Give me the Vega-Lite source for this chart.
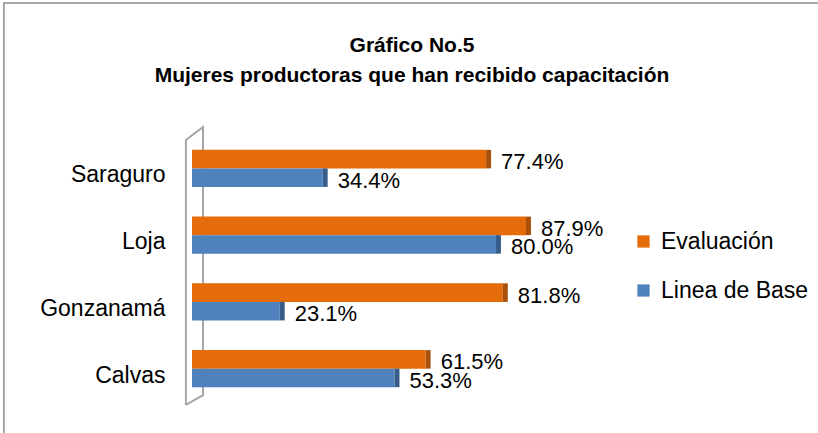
{
  "$schema": "https://vega.github.io/schema/vega-lite/v6.json",
  "width": 380,
  "height": 267,
  "autosize": {"type": "none"},
  "padding": {"left": 192, "top": 135, "right": 246, "bottom": 31},
  "background": "white",
  "config": {
    "view": {"stroke": null},
    "font": "Liberation Sans"
  },
  "title": {
    "text": ["Gráfico No.5", "Mujeres productoras que han recibido capacitación"],
    "fontSize": 21,
    "fontWeight": "bold",
    "font": "Liberation Sans",
    "color": "#000000",
    "anchor": "middle",
    "frame": "group",
    "dx": 30,
    "lineHeight": 30,
    "offset": -84
  },
  "datasets": {
    "bars": [
      {"region": "Saraguro", "series": "Evaluación", "value": 0.774},
      {"region": "Saraguro", "series": "Linea de Base", "value": 0.344},
      {"region": "Loja", "series": "Evaluación", "value": 0.879},
      {"region": "Loja", "series": "Linea de Base", "value": 0.800},
      {"region": "Gonzanamá", "series": "Evaluación", "value": 0.818},
      {"region": "Gonzanamá", "series": "Linea de Base", "value": 0.231},
      {"region": "Calvas", "series": "Evaluación", "value": 0.615},
      {"region": "Calvas", "series": "Linea de Base", "value": 0.533}
    ],
    "wall": [
      {"wx": -0.016, "wy": -0.011, "o": 0},
      {"wx": -0.016, "wy": 0.981, "o": 1},
      {"wx": 0.029, "wy": 1.03, "o": 2},
      {"wx": 0.029, "wy": 0.026, "o": 3},
      {"wx": -0.016, "wy": -0.011, "o": 4}
    ],
    "frame": [
      {"fx": -0.495, "fx2": 2.0, "fy": 1.494, "fy2": -0.5}
    ]
  },
  "resolve": {"scale": {"y": "independent"}, "axis": {"y": "independent"}},
  "layer": [
    {
      "layer": [
        {
          "data": {"name": "frame"},
          "mark": {"type": "rect", "fill": null, "stroke": "#8C8C8C", "strokeWidth": 1.5, "clip": false},
          "encoding": {
            "x": {"field": "fx", "type": "quantitative", "scale": {"domain": [0, 1], "nice": false, "zero": false}, "axis": null},
            "x2": {"field": "fx2"},
            "y": {"field": "fy", "type": "quantitative", "scale": {"domain": [0, 1], "nice": false, "zero": false}, "axis": null},
            "y2": {"field": "fy2"}
          }
        },
        {
          "data": {"name": "wall"},
          "mark": {"type": "line", "color": "#A6A6A6", "strokeWidth": 2, "clip": false},
          "encoding": {
            "x": {"field": "wx", "type": "quantitative", "axis": null},
            "y": {"field": "wy", "type": "quantitative", "axis": null},
            "order": {"field": "o", "type": "quantitative"}
          }
        }
      ]
    },
    {
      "data": {"name": "bars"},
      "encoding": {
        "y": {
          "field": "region",
          "type": "nominal",
          "sort": ["Saraguro", "Loja", "Gonzanamá", "Calvas"],
          "scale": {"paddingInner": 0.445, "paddingOuter": 0.2225},
          "axis": {
            "title": null,
            "domain": false,
            "ticks": false,
            "labelFontSize": 23,
            "labelColor": "#000000",
            "labelFont": "Liberation Sans",
            "labelPadding": 27,
            "labelBaseline": "middle",
            "labelOffset": 7
          }
        },
        "yOffset": {
          "field": "series",
          "type": "nominal",
          "sort": ["Evaluación", "Linea de Base"],
          "scale": {"paddingInner": 0, "paddingOuter": 0}
        }
      },
      "layer": [
        {
          "mark": {"type": "bar"},
          "encoding": {
            "x": {"field": "value", "type": "quantitative", "axis": null},
            "color": {
              "field": "series",
              "type": "nominal",
              "scale": {"domain": ["Evaluación", "Linea de Base"], "range": ["#E46C0A", "#4F81BD"]},
              "legend": {
                "title": null,
                "orient": "none",
                "legendX": 440,
                "legendY": 95,
                "symbolType": "square",
                "symbolSize": 150,
                "symbolStrokeWidth": 0,
                "labelFontSize": 23,
                "labelFont": "Liberation Sans",
                "labelColor": "#000000",
                "labelOffset": 6,
                "rowPadding": 25
              }
            }
          }
        },
        {
          "transform": [{"calculate": "datum.value + 0.013", "as": "sideEnd"}],
          "mark": {"type": "bar"},
          "encoding": {
            "x": {"field": "value", "type": "quantitative"},
            "x2": {"field": "sideEnd"},
            "fill": {
              "field": "series",
              "type": "nominal",
              "scale": {"domain": ["Evaluación", "Linea de Base"], "range": ["#A9500A", "#385D8A"]},
              "legend": null
            }
          }
        },
        {
          "mark": {"type": "text", "align": "left", "baseline": "middle", "dx": 15, "dy": 3, "fontSize": 22, "font": "Liberation Sans", "color": "#000000"},
          "encoding": {
            "x": {"field": "value", "type": "quantitative"},
            "text": {"field": "value", "type": "quantitative", "format": ".1%"}
          }
        }
      ]
    }
  ]
}
